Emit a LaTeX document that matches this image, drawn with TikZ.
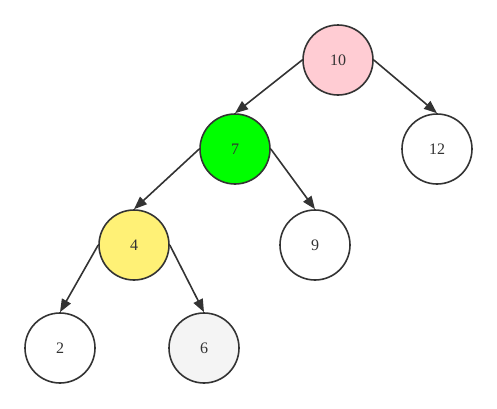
\documentclass[tikz,border=0pt]{standalone}
\usepackage{fontspec}
\setmainfont{Liberation Serif}
\usetikzlibrary{positioning,arrows.meta}

\definecolor{edgegray}{HTML}{333333}
\definecolor{pinkfill}{HTML}{FFCCD3}
\definecolor{greenfill}{HTML}{00FF00}
\definecolor{yellowfill}{HTML}{FFF176}
\definecolor{grayfill}{HTML}{F4F4F4}

\begin{document}
\begin{tikzpicture}[
  key/.style={circle, draw=edgegray, line width=1.6pt, minimum size=70pt, inner sep=0pt,
    text=edgegray, font=\fontsize{16}{16}\selectfont, fill=white},
  link/.style={draw=edgegray, line width=1.6pt, -{Triangle[length=13pt,width=10pt]}},
  on grid
]
\useasboundingbox (0pt,0pt) rectangle (497pt,-408pt);

% nodes (positions taken from the tree levels)
\node[key, fill=pinkfill] (ten) at (338pt,-60pt) {10};
\node[key, below left=89pt and 103pt of ten, fill=greenfill] (seven) {7};
\node[key, below right=89pt and 99pt of ten] (twelve) {12};
\node[key, below left=96pt and 101pt of seven, fill=yellowfill] (four) {4};
\node[key, below right=96pt and 80pt of seven] (nine) {9};
\node[key, below left=103pt and 74pt of four] (two) {2};
\node[key, below right=103pt and 70pt of four, fill=grayfill] (six) {6};

% edges
\draw[link] (ten.west) -- (seven.north);
\draw[link] (ten.east) -- (twelve.north);
\draw[link] (seven.west) -- (four.north);
\draw[link] (seven.east) -- (nine.north);
\draw[link] (four.west) -- (two.north);
\draw[link] (four.east) -- (six.north);

\end{tikzpicture}
\end{document}
